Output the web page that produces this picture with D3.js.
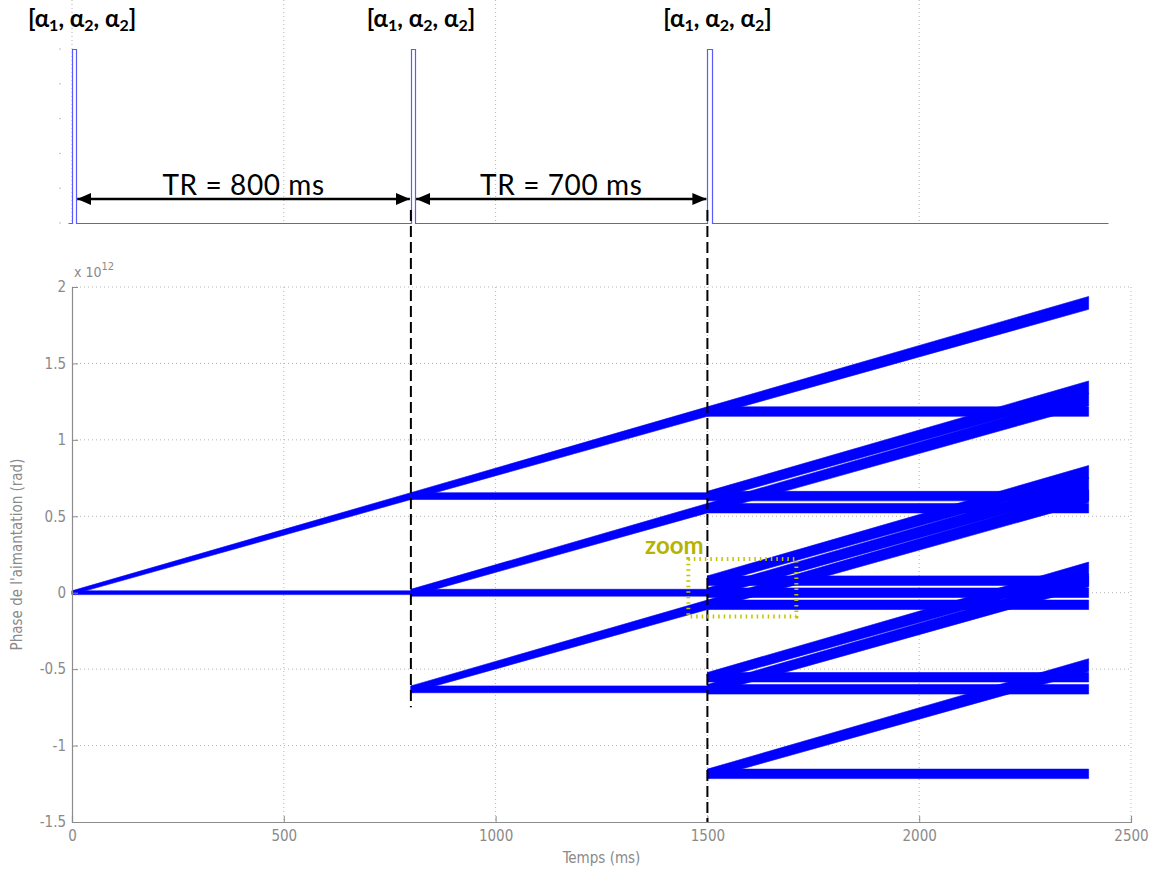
<!DOCTYPE html>
<html><head><meta charset="utf-8">
<script src="https://cdn.jsdelivr.net/npm/d3@7"></script>
<style>
body{margin:0;background:#fff;}
svg{display:block;}
</style></head>
<body>
<svg id="chart" width="1155" height="872"></svg>
<script>
// ---------------- DATA ----------------
const xTicks = [0, 500, 1000, 1500, 2000, 2500];
const yTicks = [-1.5, -1, -0.5, 0, 0.5, 1, 1.5, 2];
const yTickLabels = ["-1.5", "-1", "-0.5", "0", "0.5", "1", "1.5", "2"];
const topTicks = [0, 0.2, 0.4, 0.6, 0.8, 1];
const topGridTimes = [0, 500, 1000, 2000];
const pulseTimes = [0, 800, 1500];
const pulseDuration = 10;       // ms
const signalStart = -10;        // ms
const signalEnd = 2445;         // ms
const trLabels = ["TR = 800 ms", "TR = 700 ms"];
const dashedEnds = [-0.75, -1.5]; // lower end of the dashed marker at 800 / 1500 ms (x 10^12 rad)
const zoomBoxT = [1455, 1710];    // ms
const zoomBoxPhase = [-0.155, 0.22]; // x 10^12 rad
// half-width of the isochromat spread (x 10^12 rad) at t = 0 and its growth per ms of dephasing
const spread0 = 0.0124;
const spreadRate = 1.24e-5;

// phase trajectories, x 10^12 rad : [t0, t1, phase0, phase1]
const period1 = [
  [0, 800, 0, 0.632],
  [0, 800, 0, 0]
];
const period2 = [
  [800, 1500, 0.632, 1.185],
  [800, 1500, 0.632, 0.632],
  [800, 1500, 0, 0.553],
  [800, 1500, 0, 0],
  [800, 1500, -0.632, -0.079],
  [800, 1500, -0.632, -0.632]
];
const period3 = [
  [1500, 2400, 1.185, 1.896],
  [1500, 2400, 1.185, 1.185],
  [1500, 2400, 0.632, 1.343],
  [1500, 2400, 0.632, 0.632],
  [1500, 2400, 0.553, 1.264],
  [1500, 2400, 0.553, 0.553],
  [1500, 2400, 0.079, 0.790],
  [1500, 2400, 0.079, 0.079],
  [1500, 2400, 0, 0.711],
  [1500, 2400, 0, 0],
  [1500, 2400, -0.079, 0.632],
  [1500, 2400, -0.079, -0.079],
  [1500, 2400, -0.553, 0.158],
  [1500, 2400, -0.553, -0.553],
  [1500, 2400, -0.632, 0.079],
  [1500, 2400, -0.632, -0.632],
  [1500, 2400, -1.185, -0.474],
  [1500, 2400, -1.185, -1.185]
];

// ---------------- DRAW ----------------
const svg = d3.select("#chart");
const x = d3.scaleLinear().domain([0, 2500]).range([72, 1131]);
const y = d3.scaleLinear().domain([-1.5, 2]).range([822, 287]);
const yTop = d3.scaleLinear().domain([0, 1]).range([223, 49]);

const axisColor = "#8c8c8c";
const gridColor = "#b4b4b4";
const mFont = "'Liberation Sans Narrow','DejaVu Sans Condensed','Liberation Sans',Arial,sans-serif";
const cFont = "Lato,'Open Sans',sans-serif";

// defs
const defs = svg.append("defs");
["start", "end"].forEach(k => {
  defs.append("marker").attr("id", "arr-" + k)
    .attr("viewBox", "0 0 14 12").attr("refX", k === "end" ? 14 : 0).attr("refY", 6)
    .attr("markerWidth", 14).attr("markerHeight", 12).attr("markerUnits", "userSpaceOnUse")
    .attr("orient", "auto")
    .append("path")
    .attr("d", k === "end" ? "M0,0 L14,6 L0,12 Z" : "M14,0 L0,6 L14,12 Z")
    .attr("fill", "#000");
});

// ---- top panel ----
const topG = svg.append("g");
topG.selectAll("line.tg").data(topGridTimes).join("line")
  .attr("x1", d => x(d)).attr("x2", d => x(d))
  .attr("y1", 0).attr("y2", yTop(0))
  .attr("stroke", gridColor).attr("stroke-width", 1).attr("stroke-dasharray", "1,3");
topG.selectAll("line.tt").data(topTicks).join("line")
  .attr("x1", 59).attr("x2", 61)
  .attr("y1", d => yTop(d)).attr("y2", d => yTop(d))
  .attr("stroke", "#c0c0c0").attr("stroke-width", 1);

const signal = [[signalStart, 0]];
pulseTimes.forEach(p => {
  signal.push([p, 0], [p, 1], [p + pulseDuration, 1], [p + pulseDuration, 0]);
});
signal.push([signalEnd, 0]);
topG.append("path")
  .attr("d", d3.line().x(d => Math.round(x(d[0])) + 0.5).y(d => Math.round(yTop(d[1])) + 0.5)(signal))
  .attr("fill", "none").attr("stroke", "#5a5aff").attr("stroke-width", 1.2);

// TR arrows
const arrowY = 199;
trLabels.forEach((lab, i) => {
  const t0 = pulseTimes[i] + pulseDuration, t1 = pulseTimes[i + 1];
  topG.append("line")
    .attr("x1", x(t0) + 1).attr("x2", x(t1) - 1)
    .attr("y1", arrowY).attr("y2", arrowY)
    .attr("stroke", "#000").attr("stroke-width", 2.5)
    .attr("marker-start", "url(#arr-start)").attr("marker-end", "url(#arr-end)");
  topG.append("text")
    .attr("x", (x(t0) + x(t1)) / 2).attr("y", 195)
    .attr("text-anchor", "middle")
    .attr("font-family", cFont).attr("font-size", 28).attr("letter-spacing", 0.6)
    .attr("fill", "#000").text(lab);
});

// pulse labels [α1, α2, α2]
pulseTimes.forEach(p => {
  const t = topG.append("text")
    .attr("x", x(p + pulseDuration / 2) + 8).attr("y", 27)
    .attr("text-anchor", "middle")
    .attr("font-family", cFont).attr("font-size", 24).attr("font-weight", "bold")
    .attr("fill", "#000");
  const parts = [["[α", false], ["1", true], [", α", false], ["2", true], [", α", false], ["2", true], ["]", false]];
  parts.forEach(([s, sub]) => {
    const ts = t.append("tspan").text(s);
    if (sub) ts.attr("font-size", 16).attr("dy", 4);
    else if (s !== "[α") ts.attr("dy", -4);
  });
});

// ---- bottom panel ----
const g = svg.append("g");
// grid
g.selectAll("line.gx").data(xTicks.slice(1)).join("line")
  .attr("x1", d => x(d)).attr("x2", d => x(d))
  .attr("y1", y(2)).attr("y2", y(-1.5))
  .attr("stroke", gridColor).attr("stroke-width", 1).attr("stroke-dasharray", "1,3");
g.selectAll("line.gy").data(yTicks.slice(1)).join("line")
  .attr("x1", x(0)).attr("x2", x(2500))
  .attr("y1", d => y(d)).attr("y2", d => y(d))
  .attr("stroke", gridColor).attr("stroke-width", 1).attr("stroke-dasharray", "1,3");

// phase bands: stored (flat) states keep the spread they had at the pulse,
// dephasing (rising) states keep spreading
const segments = period1.concat(period2, period3);
const sp = t => spread0 + spreadRate * t;
const bandPath = s => {
  const [t0, t1, p0, p1] = s;
  const s0 = sp(t0), s1 = (p0 === p1) ? s0 : sp(t1);
  const pts = [
    [t0, p0 + s0], [t1, p1 + s1],
    [t1, p1 - s1], [t0, p0 - s0]
  ];
  return d3.line().x(d => x(d[0])).y(d => y(d[1]))(pts) + "Z";
};
g.selectAll("path.band").data(segments).join("path")
  .attr("d", bandPath)
  .attr("fill", "#0000ff").attr("stroke", "#0000ff")
  .attr("stroke-width", 0.6);

// axes
const xAxis = d3.axisBottom(x).tickValues(xTicks).tickSize(-6).tickPadding(8).tickFormat(d3.format("d"));
const yAxis = d3.axisLeft(y).tickValues(yTicks).tickSize(-6).tickPadding(8)
  .tickFormat((d, i) => yTickLabels[i]);
const gx = g.append("g").attr("transform", `translate(0,${y(-1.5)})`).call(xAxis);
const gy = g.append("g").attr("transform", `translate(${x(0)},0)`).call(yAxis);
[gx, gy].forEach(a => {
  a.select(".domain").attr("stroke", axisColor).attr("stroke-width", 1.2);
  a.selectAll(".tick line").attr("stroke", axisColor);
  a.selectAll(".tick text").attr("fill", "#8a8a8a").attr("font-family", mFont).attr("font-size", 15);
});
gy.selectAll(".tick text").attr("dx", "2");

// exponent
const ex = g.append("text").attr("x", 74).attr("y", 277)
  .attr("font-family", mFont).attr("font-size", 14).attr("fill", "#8a8a8a");
ex.append("tspan").text("x 10");
ex.append("tspan").attr("dy", -7).attr("font-size", 11).text("12");

// axis titles
g.append("text").attr("x", (x(0) + x(2500)) / 2).attr("y", 863)
  .attr("text-anchor", "middle").attr("font-family", mFont).attr("font-size", 15)
  .attr("fill", "#8a8a8a").text("Temps (ms)");
g.append("text").attr("transform", `translate(22,${(y(2) + y(-1.5)) / 2}) rotate(-90)`)
  .attr("text-anchor", "middle").attr("font-family", mFont).attr("font-size", 15)
  .attr("fill", "#8a8a8a").text("Phase de l'aimantation (rad)");

// dashed TR markers
[pulseTimes[1], pulseTimes[2]].forEach((t, i) => {
  svg.append("line")
    .attr("x1", x(t)).attr("x2", x(t))
    .attr("y1", 210).attr("y2", y(dashedEnds[i]))
    .attr("stroke", "#000").attr("stroke-width", 2)
    .attr("stroke-dasharray", "11,5");
});

// zoom box
const zc = "#c3c300";
svg.append("rect")
  .attr("x", x(zoomBoxT[0])).attr("y", y(zoomBoxPhase[1]))
  .attr("width", x(zoomBoxT[1]) - x(zoomBoxT[0]))
  .attr("height", y(zoomBoxPhase[0]) - y(zoomBoxPhase[1]))
  .attr("fill", "none").attr("stroke", zc).attr("stroke-width", 4)
  .attr("stroke-dasharray", "1.5,4");
svg.append("text").attr("x", x(zoomBoxT[0]) - 14).attr("y", y(zoomBoxPhase[1]) - 5)
  .attr("text-anchor", "middle").attr("font-family", cFont).attr("font-weight", "bold")
  .attr("font-size", 24).attr("fill", "#b4b400").text("zoom");
</script>
</body></html>
